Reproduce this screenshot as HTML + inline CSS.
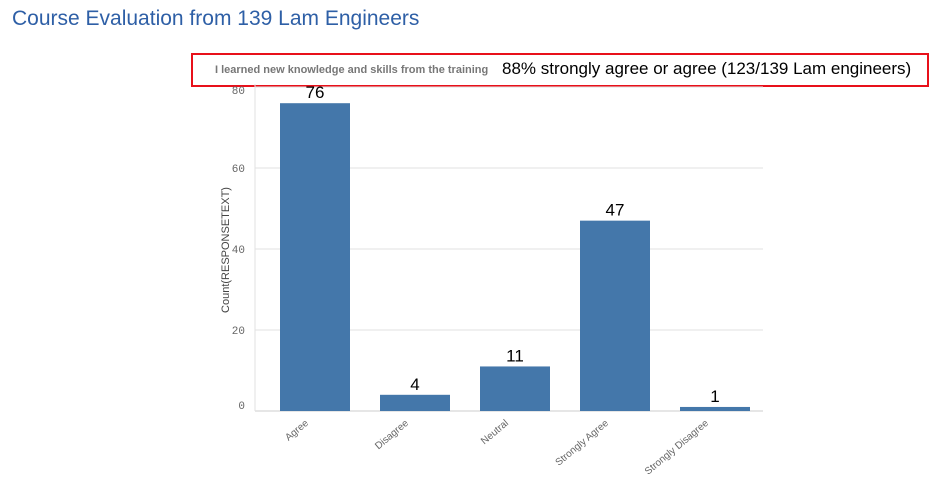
<!DOCTYPE html>
<html><head><meta charset="utf-8"><style>
body{margin:0;background:#fff;width:945px;height:481px;overflow:hidden;font-family:"Liberation Sans",sans-serif}
#title{position:absolute;left:12px;top:7px;font-size:21px;color:#2e5fa6}
#box{position:absolute;left:191px;top:53px;width:734px;height:30px;border:2px solid #e8101a}
#sub{position:absolute;left:22px;top:9px;font-size:11px;font-weight:bold;color:#777}
#note{position:absolute;left:309px;top:4px;font-size:17px;color:#000}
svg{position:absolute;left:0;top:0}
</style></head><body>
<div id="title">Course Evaluation from 139 Lam Engineers</div>
<div id="box">
<span id="sub">I learned new knowledge and skills from the training</span>
<span id="note">88% strongly agree or agree (123/139 Lam engineers)</span>
</div>
<svg id="chart" width="945" height="481"></svg>
<script>
const categories=["Agree","Disagree","Neutral","Strongly Agree","Strongly Disagree"];
const values=[76,4,11,47,1];
const ticks=[0,20,40,60,80];
const NS="http://www.w3.org/2000/svg";
const svg=document.getElementById('chart');
const x0=265,step=100,barW=70,y0=411,yTop=87,vmax=80;
const y=v=>y0-(v/vmax)*(y0-yTop);
const bx=i=>x0+i*step+(step-barW)/2;
function mk(t,a,txt){const e=document.createElementNS(NS,t);for(const k in a)e.setAttribute(k,a[k]);if(txt!=null)e.textContent=txt;svg.appendChild(e);return e;}
ticks.forEach(t=>{
 const g=mk('line',{x1:255,x2:763,y1:y(t),y2:y(t),stroke:t===0?'#ccc':'#e2e2e2','stroke-width':1});
 
 
 const l=mk('text',{x:245,y:y(t)+(t===80?7:t===0?-2:4),'text-anchor':'end','font-size':11,fill:'#666','font-family':'Liberation Mono, monospace'},t);
 
 
});
const ax=mk('line',{x1:255,x2:255,y1:84,y2:411,stroke:'#e2e2e2'});


const yt=mk('text',{x:229,y:250,transform:'rotate(-90 229 250)','text-anchor':'middle','font-size':11,fill:'#444'},'Count(RESPONSETEXT)');


categories.forEach((c,i)=>{
 const r=mk('rect',{x:bx(i),y:y(values[i]),width:barW,height:y0-y(values[i]),fill:'#4477aa'});
 
 
 const v=mk('text',{x:bx(i)+barW/2,y:y(values[i])-5,'text-anchor':'middle','font-size':17,fill:'#000'},values[i]);
 
 
 const cx=bx(i)+barW/2-6,cy=424;
 const l=mk('text',{x:cx,y:cy,'text-anchor':'end','font-size':10,fill:'#666',transform:`rotate(-40 ${cx} ${cy})`},c);
 
 
});
</script>
</body></html>
